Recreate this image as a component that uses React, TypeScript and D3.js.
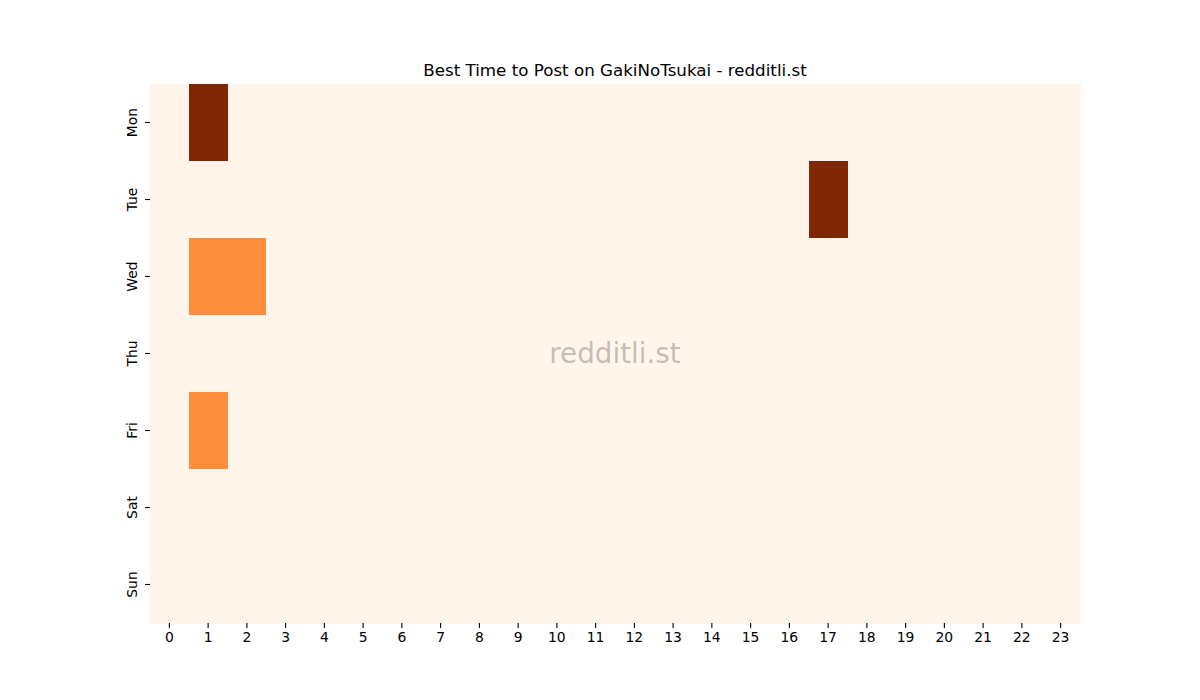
import { useRef, useEffect } from "react";
import * as d3 from "d3";

const days = ["Mon", "Tue", "Wed", "Thu", "Fri", "Sat", "Sun"];
const hours = d3.range(24).map(String);

// non-zero cells: [day, hour, value]
const hotCells: [string, number, number][] = [
  ["Mon", 1, 2],
  ["Tue", 17, 2],
  ["Wed", 1, 1],
  ["Wed", 2, 1],
  ["Fri", 1, 1],
];

export default function App() {
  const svgRef = useRef<SVGSVGElement>(null);

  useEffect(() => {
    if (!svgRef.current) return;
    const width = 1200;
    const height = 700;
    const margin = { top: 84, right: 120, bottom: 77, left: 150 };

    const svg = d3.select(svgRef.current);
    svg.selectAll("*").remove();
    svg.attr("width", width).attr("height", height);

    const font = "DejaVu Sans, sans-serif";

    const x = d3.scaleBand().domain(hours).range([margin.left, width - margin.right]);
    const y = d3.scaleBand().domain(days).range([margin.top, height - margin.bottom]);

    const color = d3.scaleSequential(d3.interpolateOranges).domain([0, 2]);

    const cells: { day: string; hour: string; value: number }[] = [];
    days.forEach((day) =>
      hours.forEach((hour) => {
        const hit = hotCells.find((c) => c[0] === day && String(c[1]) === hour);
        cells.push({ day, hour, value: hit ? hit[2] : 0 });
      })
    );

    svg
      .append("g")
      .selectAll("rect")
      .data(cells)
      .enter()
      .append("rect")
      .attr("x", (d) => x(d.hour) || 0)
      .attr("y", (d) => y(d.day) || 0)
      .attr("width", x.bandwidth() + 0.5)
      .attr("height", y.bandwidth() + 0.5)
      .attr("fill", (d) => color(d.value))
      .attr("shape-rendering", "crispEdges");

    // watermark
    svg
      .append("text")
      .attr("x", (margin.left + width - margin.right) / 2)
      .attr("y", (margin.top + height - margin.bottom) / 2)
      .attr("text-anchor", "middle")
      .attr("dominant-baseline", "central")
      .attr("font-family", font)
      .attr("font-size", 27.8)
      .attr("fill", "#808080")
      .attr("fill-opacity", 0.48)
      .text("redditli.st");

    // x axis
    const xAxis = svg
      .append("g")
      .attr("transform", `translate(0,${height - margin.bottom})`)
      .call(d3.axisBottom(x).tickSize(4.9).tickPadding(4.5));
    xAxis.select(".domain").remove();
    xAxis.selectAll("line").attr("stroke", "#000").attr("stroke-width", 1.1);
    xAxis.selectAll("text").attr("font-family", font).attr("font-size", 13.9).attr("fill", "#000");

    // y axis
    const yAxis = svg
      .append("g")
      .attr("transform", `translate(${margin.left},0)`)
      .call(d3.axisLeft(y).tickSize(4.9).tickPadding(4.5));
    yAxis.select(".domain").remove();
    yAxis.selectAll("line").attr("stroke", "#000").attr("stroke-width", 1.1);
    yAxis
      .selectAll<SVGTextElement, string>("text")
      .attr("font-family", font)
      .attr("font-size", 13.9)
      .attr("fill", "#000")
      .attr("text-anchor", "middle")
      .attr("dy", null)
      .attr("x", null)
      .attr("transform", "translate(-18,0) rotate(-90)")
      .attr("dominant-baseline", "central");

    // title
    svg
      .append("text")
      .attr("x", (margin.left + width - margin.right) / 2)
      .attr("y", margin.top - 8.3)
      .attr("text-anchor", "middle")
      .attr("font-family", font)
      .attr("font-size", 16.7)
      .attr("fill", "#000")
      .text("Best Time to Post on GakiNoTsukai - redditli.st");
  }, []);

  return (
    <div style={{ margin: -8, width: 1200, height: 700, background: "#fff" }}>
      <svg ref={svgRef} style={{ display: "block" }} />
    </div>
  );
}
